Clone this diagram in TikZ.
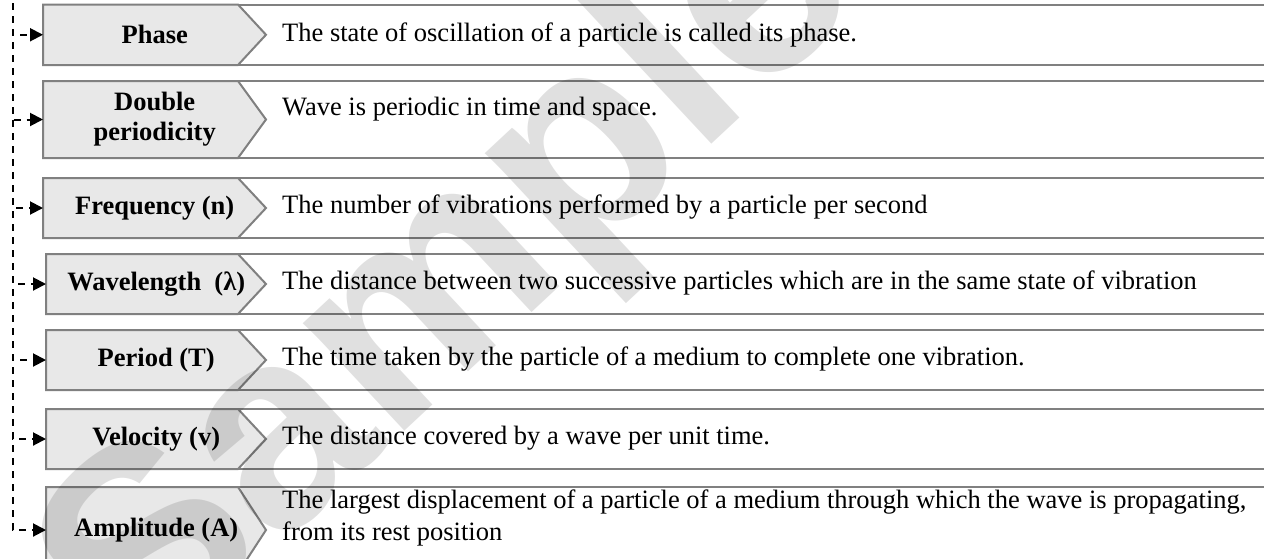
\documentclass[tikz,border=0pt]{standalone}
\usepackage{fontspec}
\setmainfont{Liberation Serif}
\newfontfamily\wmfont{Liberation Sans}
\usetikzlibrary{arrows.meta}
\definecolor{framegray}{HTML}{808080}
\definecolor{labelgray}{HTML}{E8E8E8}
\tikzset{
 rowframe/.style={draw=framegray, line width=2pt, fill=white},
 labelbox/.style={draw=framegray, line width=2pt, fill=labelgray},
 lbl/.style={inner sep=0pt, font=\fontsize{26.5}{30}\selectfont\bfseries, align=center, anchor=west},
 desc/.style={inner sep=0pt, anchor=west, font=\fontsize{26.5}{32}\selectfont, align=left},
 conn/.style={draw=black, line width=2pt, dash pattern=on 7pt off 6pt, -{Triangle[length=13pt,width=13pt]}},
 watermark/.style={font=\wmfont\bfseries\fontsize{280}{280}\selectfont, text=black, text opacity=0.12, inner sep=0pt}
}
% #1 name, #2 left, #3 top, #4 bottom, #5 label, #6 description, #7 description y
\newcommand\myrow[7]{%
 \draw[rowframe] (#2,#3) rectangle (1300,#4);
 \filldraw[labelbox] (#2,#3) -- (238,#3) -- (266,{(#3+#4)/2}) -- (238,#4) -- (#2,#4) -- cycle;
 \node[lbl, minimum width={(266-#2)*1pt}, minimum height={(#4-#3)*1pt}] (#1) at (#2,{(#3+#4)/2}) {#5};
 \node[desc] (#1d) at (282,#7) {#6};
}
\begin{document}
\begin{tikzpicture}[x=1pt,y=-1pt]
\useasboundingbox (0,0) rectangle (1264,558);
\clip (0,0) rectangle (1264,558);
\myrow{phase}{43}{4.5}{65}{Phase}{The state of oscillation of a particle is called its phase.}{35}
\myrow{double}{43}{81}{158}{Double\\periodicity}{Wave is periodic in time and space.}{109}
\myrow{freq}{43}{178}{238}{Frequency (n)}{The number of vibrations performed by a particle per second}{207}
\myrow{wave}{46}{254}{314}{Wavelength\ \ (λ)}{The distance between two successive particles which are in the same state of vibration}{283}
\myrow{period}{46}{330}{390}{Period (T)}{The time taken by the particle of a medium to complete one vibration.}{359}
\myrow{vel}{46}{409}{469}{Velocity (v)}{The distance covered by a wave per unit time.}{438}
\myrow{amp}{46}{487}{573}{Amplitude (A)}{The largest displacement of a particle of a medium through which the wave is propagating,\\from its rest position}{518}
\coordinate (trunk) at (13,-10);
\draw[conn] (trunk) |- (phase.west);
\draw[conn] (trunk) |- (double.west);
\draw[conn] (trunk) |- (freq.west);
\draw[conn] (trunk) |- (wave.west);
\draw[conn] (trunk) |- (period.west);
\draw[conn] (trunk) |- (vel.west);
\draw[conn] (trunk) |- (amp.west);
\node[watermark, rotate=43] (wm) at (455,285) {Sample};
\end{tikzpicture}
\end{document}
